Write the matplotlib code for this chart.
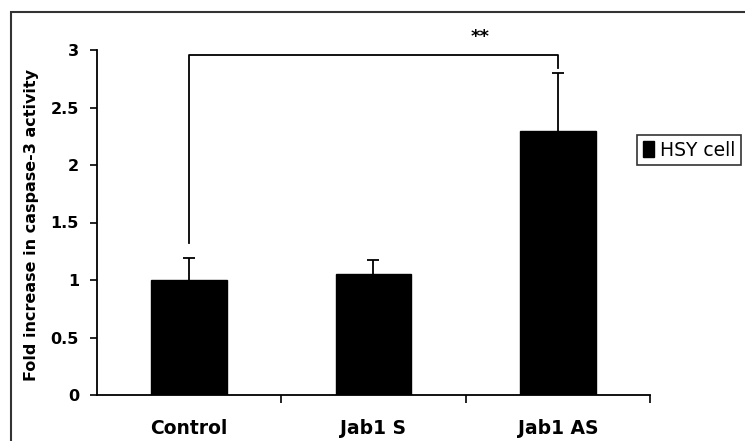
import matplotlib

matplotlib.use("Agg")
import matplotlib.pyplot as plt
from matplotlib.patches import Rectangle
import numpy as np

categories = ["Control", "Jab1 S", "Jab1 AS"]
values = [1.0, 1.05, 2.3]
errors = [0.19, 0.12, 0.5]
yticks = [0, 0.5, 1, 1.5, 2, 2.5, 3]
yticklabels = ["0", "0.5", "1", "1.5", "2", "2.5", "3"]
series_name = "HSY cell"
ylabel = "Fold increase in caspase-3 activity"

plt.rcParams["font.family"] = ["DejaVu Sans"]

W, H = 745, 441
fig = plt.figure(figsize=(W / 100, H / 100), dpi=100)
ax = fig.add_axes([97 / W, 1 - 395 / H, (650 - 97) / W, (395 - 50) / H])

x = np.arange(len(categories))
vals = np.array(values)
errs = np.array(errors)
ax.bar(x, vals, width=0.41, color="black", edgecolor="black", label=series_name, zorder=2)
# upper-only error bars, cap only at the top
ax.vlines(x, vals, vals + errs, color="black", lw=1.3, zorder=3)
ax.plot(x, vals + errs, ls="none", marker="_", markersize=9, mew=1.3, color="black", zorder=3)

# significance bracket between Control and Jab1 AS
ax.plot([0, 0, 2, 2], [1.32, 2.96, 2.96, 2.84], color="black", lw=1.3, clip_on=False)
ax.text(1.58, 3.11, "**", ha="center", va="center", fontsize=13, fontweight="bold",
        clip_on=False)

ax.set_xlim(-0.5, 2.5)
ax.set_ylim(0, 3)
ax.set_xticks([0.5, 1.5, 2.5])
ax.set_xticklabels([])
ax.set_xticks(x, minor=True)
ax.set_xticklabels(categories, minor=True, fontsize=13.5, fontweight="bold")
ax.tick_params(axis="x", which="major", direction="out", length=6, width=1.2)
ax.tick_params(axis="x", which="minor", length=0, pad=17)
ax.set_yticks(yticks)
ax.set_yticklabels(yticklabels, fontsize=11.5, fontweight="bold")
ax.tick_params(axis="y", direction="out", length=5, width=1.2, pad=8)
ax.set_ylabel(ylabel, fontsize=11.5, fontweight="bold")
ax.yaxis.set_label_coords(-0.105, 0.493)

for s in ("top", "right"):
    ax.spines[s].set_visible(False)
for s in ("left", "bottom"):
    ax.spines[s].set_linewidth(1.3)

leg = ax.legend(loc="upper left", bbox_to_anchor=(637 / W, 1 - 135 / H),
                bbox_transform=fig.transFigure, frameon=True, fancybox=False,
                fontsize=13.5, handlelength=0.6, handleheight=0.9, handletextpad=0.35,
                borderpad=0.3, borderaxespad=0)
leg.get_frame().set_edgecolor("black")
leg.get_frame().set_linewidth(1.2)

# outer frame of the original figure
fig.patches.append(Rectangle((11 / W, -0.05), 1.1, 1 - 12 / H + 0.05,
                             transform=fig.transFigure, fill=False,
                             edgecolor="#333333", lw=1.5))

fig.savefig("out.png", dpi=100)
plt.close(fig)
